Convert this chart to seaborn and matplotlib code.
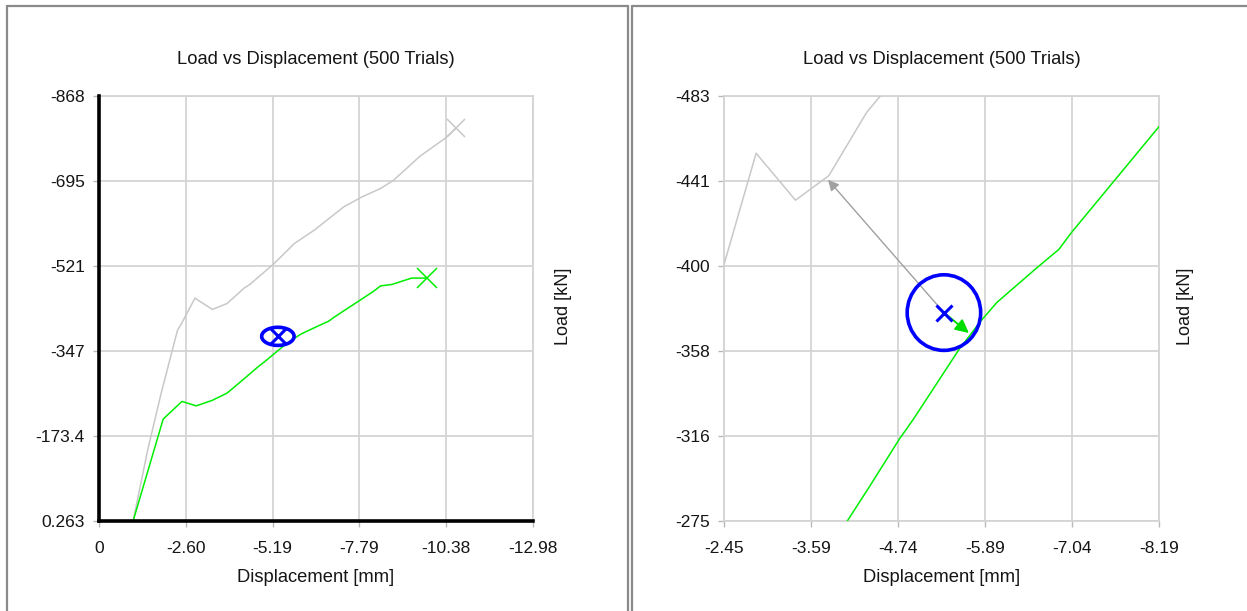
import numpy as np
import pandas as pd
import matplotlib
matplotlib.use("Agg")
import matplotlib.pyplot as plt
from matplotlib.patches import Ellipse
from matplotlib.lines import Line2D
import seaborn as sns

# Deterministic load path (grey)
grey_disp = [-1.02, -1.46, -1.86, -2.35, -2.45, -2.87, -3.39, -3.83, -4.33, -4.51,
             -5.21, -5.85, -6.44, -7.33, -7.87, -8.42, -8.81, -9.60, -10.34, -10.69]
grey_load = [0.26, -146, -261, -390, -401, -455, -432, -444, -475, -483,
             -524, -567, -594, -642, -662, -679, -696, -745, -781, -803]

# Mean response over the trials (green)
green_disp = [-1.02, -1.92, -2.48, -2.91, -3.38, -3.83, -4.37, -4.76, -4.95, -5.55,
              -5.84, -6.05, -6.58, -6.87, -7.03, -7.61, -8.19, -8.42, -8.76, -9.35, -9.82]
green_load = [0.26, -208, -244, -235, -246, -261, -292, -315, -325, -359,
              -373, -382, -399, -408, -416, -442, -468, -480, -483, -496, -496]

# Mean point and its scatter ellipse
mean_disp = -5.35
mean_load = -377.0
half_disp = 0.485
half_load = 18.5

# Closest points on each curve from the mean point
grey_near = (-3.82, -442.0)
green_near = (-5.68, -367.0)

title_text = "Load vs Displacement (500 Trials)"
x_label = "Displacement [mm]"
y_label = "Load [kN]"

left_xlim = (0, -12.98)
left_ylim = (0.263, -868)
left_xlabels = ["0", "-2.60", "-5.19", "-7.79", "-10.38", "-12.98"]
left_ylabels = ["0.263", "-173.4", "-347", "-521", "-695", "-868"]

right_xlim = (-2.45, -8.19)
right_ylim = (-275, -483)
right_xlabels = ["-2.45", "-3.59", "-4.74", "-5.89", "-7.04", "-8.19"]
right_ylabels = ["-275", "-316", "-358", "-400", "-441", "-483"]

sns.set_theme(style="white")
plt.rcParams["font.family"] = ["Liberation Sans", "DejaVu Sans"]

W, H = 1247, 611
fig = plt.figure(figsize=(W / 100, H / 100), dpi=100)
fig.patch.set_facecolor("white")


def fx(px):
    return px / W


def fy(py):
    return 1 - py / H


grey_df = pd.DataFrame({"disp": grey_disp, "load": grey_load})
green_df = pd.DataFrame({"disp": green_disp, "load": green_load})

GRID = "#d4d4d4"
TXT = "#151515"


def setup(ax, xlim, ylim, xlabels, ylabels, black_frame):
    ax.set_facecolor("white")
    ax.set_xlim(*xlim)
    ax.set_ylim(*ylim)
    ax.set_xticks(np.linspace(xlim[0], xlim[1], len(xlabels)))
    ax.set_xticklabels(xlabels)
    ax.set_yticks(np.linspace(ylim[0], ylim[1], len(ylabels)))
    ax.set_yticklabels(ylabels)
    ax.grid(True, color=GRID, lw=1.3)
    ax.set_axisbelow(True)
    ax.tick_params(axis="both", direction="out", length=4.3, width=1,
                   color="#b8b8b8", labelsize=12.5, labelcolor=TXT,
                   bottom=True, left=True)
    ax.tick_params(axis="x", pad=10)
    ax.tick_params(axis="y", pad=6)
    for s in ax.spines.values():
        s.set_color(GRID)
        s.set_linewidth(1.3)
    if black_frame:
        for side in ("left", "bottom"):
            ax.spines[side].set_color("black")
            ax.spines[side].set_linewidth(2.6)
            ax.spines[side].set_zorder(5)
    ax.set_xlabel("")
    ax.set_ylabel("")


def curves(ax, end_markers):
    sns.lineplot(data=grey_df, x="disp", y="load", ax=ax, sort=False,
                 estimator=None, color="#c8c8c8", lw=1.1, zorder=3)
    sns.lineplot(data=green_df, x="disp", y="load", ax=ax, sort=False,
                 estimator=None, color="#00ee00", lw=1.1, zorder=3)
    if end_markers:
        ax.plot(grey_disp[-1], grey_load[-1], marker="x", ms=13, mew=1.1,
                color="#c8c8c8", zorder=4)
        ax.plot(green_disp[-1], green_load[-1], marker="x", ms=14, mew=1.1,
                color="#00ee00", zorder=4)
    ax.add_patch(Ellipse((mean_disp, mean_load), 2 * half_disp, 2 * half_load,
                         fill=False, ec="#0000ff", lw=2.6, zorder=6))
    ax.plot(mean_disp, mean_load, marker="x", ms=12, mew=2.2, color="#0000ff",
            zorder=7, clip_on=False)


# Left panel: full curves
ax1 = fig.add_axes([fx(99), fy(521), (533 - 99) / W, (521 - 96) / H])
curves(ax1, True)
setup(ax1, left_xlim, left_ylim, left_xlabels, left_ylabels, True)

# Right panel: close-up around the mean point
ax2 = fig.add_axes([fx(724.3), fy(521), (1159 - 724.3) / W, (521 - 96) / H])
curves(ax2, False)
ax2.annotate("", xy=grey_near, xytext=(mean_disp, mean_load),
             arrowprops=dict(arrowstyle="-|>", color="#a0a0a0", lw=1.0,
                             mutation_scale=16, shrinkA=0, shrinkB=0), zorder=5)
ax2.annotate("", xy=green_near, xytext=(mean_disp, mean_load),
             arrowprops=dict(arrowstyle="-|>", color="#00dd00", lw=1.4,
                             mutation_scale=20, shrinkA=0, shrinkB=0), zorder=5)
setup(ax2, right_xlim, right_ylim, right_xlabels, right_ylabels, False)

# Titles and axis labels
for cx, ylx in ((316, 563), (942, 1185)):
    fig.text(fx(cx), fy(59), title_text, ha="center", va="center",
             fontsize=13.2, color=TXT)
    fig.text(fx(cx), fy(577), x_label, ha="center", va="center",
             fontsize=13.2, color=TXT)
    fig.text(fx(ylx), fy(306), y_label, ha="center", va="center",
             rotation=90, fontsize=13, color=TXT)

# Panel frames
frame = dict(color="#8a8a8a", lw=1.6, solid_capstyle="butt")
fig.add_artist(Line2D([fx(7), fx(7)], [fy(5), 0], **frame))
fig.add_artist(Line2D([fx(7), fx(627.5)], [fy(5.5), fy(5.5)], **frame))
fig.add_artist(Line2D([fx(627.5), fx(627.5)], [fy(5), 0], **frame))
fig.add_artist(Line2D([fx(632), fx(632)], [fy(5), 0], **frame))
fig.add_artist(Line2D([fx(632), 1], [fy(5.5), fy(5.5)], **frame))

fig.savefig("out.png", dpi=100, facecolor="white")
